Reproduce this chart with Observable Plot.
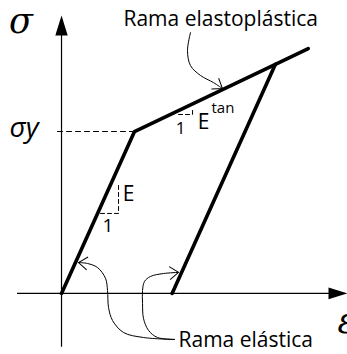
<!DOCTYPE html>
<html>
<head>
<meta charset="utf-8">
<script src="https://cdn.jsdelivr.net/npm/d3@7"></script>
<script src="https://cdn.jsdelivr.net/npm/@observablehq/plot@0.6"></script>
<style>
  html, body { margin: 0; padding: 0; background: #fff; }
</style>
</head>
<body>
<div id="chart"></div>
<script>
// Bilinear (elastic – linear hardening) stress–strain law with elastic unloading.
// Strain ε and stress σ are normalised by the yield point (ε_y = σ_y = 1, E = 1).
const loadStrain = [0, 1, 2.93, 3.38];
const loadStress = [0, 1, 1.415, 1.512];
const unloadStrain = [2.93, 1.515];
const unloadStress = [1.415, 0];

// Yield stress marker (dashed line back to the σ axis)
const yieldStrain = [-0.055, 1];
const yieldStress = [1, 1];

// Slope triangles: elastic modulus E and tangent modulus E^tan
const elasticTriStrain = [0.534, 0.781, 0.781];
const elasticTriStress = [0.494, 0.494, 0.679];
const tangentTriStrain = [1.603, 1.795, 1.795];
const tangentTriStress = [1.105, 1.105, 1.148];

// Axis extents (arrow tips at the far ends)
const strainAxis = [-0.603, 3.918];
const stressAxis = [-0.333, 1.716];

// Leader curves from the labels to the branches
const leaderTopStrain = [1.767, 1.726, 1.767, 1.904, 2.082, 2.205];
const leaderTopStress = [1.611, 1.500, 1.407, 1.346, 1.302, 1.265];
const leaderLeftStrain = [1.548, 1.123, 0.849, 0.699, 0.644, 0.630, 0.603, 0.493, 0.356, 0.233];
const leaderLeftStress = [-0.284, -0.272, -0.241, -0.167, -0.086, 0.019, 0.093, 0.160, 0.185, 0.191];
const leaderRightStrain = [1.548, 1.315, 1.192, 1.123, 1.110, 1.110, 1.137, 1.219, 1.397, 1.603];
const leaderRightStress = [-0.284, -0.272, -0.228, -0.154, -0.062, 0.019, 0.074, 0.105, 0.123, 0.130];

// Text labels
const labelText   = ["Rama elastoplástica", "Rama elástica", "1", "E", "tan", "E", "1"];
const labelStrain = [0.849, 1.603, 1.630, 1.945, 2.055, 0.918, 0.637];
const labelStress = [1.696, -0.292, 1.021, 1.060, 1.141, 0.615, 0.414];
const labelSize   = [21, 21, 17, 21, 15, 21, 19];
const labelAnchor = ["start", "start", "middle", "middle", "start", "middle", "middle"];

const W = 347, H = 354;
const xDomain = [-0.836, 3.918];
const yDomain = [-0.377, 1.809];

const pts = (xs, ys) => xs.map((x, i) => ({x, y: ys[i]}));

// Filled arrowhead for the axes: tip at the anchor, pointing up before rotation
const axisHead = {
  draw(ctx, size) {
    const r = Math.sqrt(size / Math.PI);
    const L = 2 * r, w = 0.31 * L;
    ctx.moveTo(0, 0);
    ctx.lineTo(w, L);
    ctx.lineTo(-w, L);
    ctx.closePath();
  }
};
// Open chevron for the leader curves: tip at the anchor, pointing up before rotation
const chevron = {
  draw(ctx, size) {
    const r = Math.sqrt(size / Math.PI);
    const a = 36 * Math.PI / 180;
    ctx.moveTo(-r * Math.sin(a), r * Math.cos(a));
    ctx.lineTo(0, 0);
    ctx.lineTo(r * Math.sin(a), r * Math.cos(a));
  }
};

// Screen direction of the last segment of a leader, as a rotation in degrees
const kx = W / (xDomain[1] - xDomain[0]);
const ky = H / (yDomain[1] - yDomain[0]);
function endHead(xs, ys) {
  const n = xs.length;
  const dx = (xs[n - 1] - xs[n - 2]) * kx;
  const dy = -(ys[n - 1] - ys[n - 2]) * ky;
  return {x: xs[n - 1], y: ys[n - 1], rotate: Math.atan2(dy, dx) * 180 / Math.PI + 90};
}
const heads = [
  endHead(leaderTopStrain, leaderTopStress),
  endHead(leaderLeftStrain, leaderLeftStress),
  endHead(leaderRightStrain, leaderRightStress)
];

const labels = labelText.map((t, i) => ({
  text: t, x: labelStrain[i], y: labelStress[i], size: labelSize[i], anchor: labelAnchor[i]
}));
const sans = "'Open Sans', sans-serif";
const labelMark = (anchor) =>
  Plot.text(labels.filter((d) => d.anchor === anchor), {
    x: "x", y: "y", text: "text", fontSize: (d) => d.size,
    textAnchor: anchor, fontFamily: sans, fill: "#000"
  });

const chart = Plot.plot({
  width: W,
  height: H,
  margin: 0,
  x: {domain: xDomain, axis: null},
  y: {domain: yDomain, axis: null},
  style: {background: "#fff"},
  marks: [
    // axes
    Plot.ruleY([0], {x1: strainAxis[0], x2: strainAxis[1] - 0.2, stroke: "#000", strokeWidth: 1.2}),
    Plot.ruleX([0], {y1: stressAxis[0], y2: stressAxis[1] - 0.1, stroke: "#000", strokeWidth: 1.2}),
    Plot.dot([{x: strainAxis[1], y: 0}], {x: "x", y: "y", symbol: axisHead, r: 9.5, rotate: 90, fill: "#000", stroke: null}),
    Plot.dot([{x: 0, y: stressAxis[1]}], {x: "x", y: "y", symbol: axisHead, r: 10, rotate: 0, fill: "#000", stroke: null}),

    // yield level and slope triangles
    Plot.line(pts(yieldStrain, yieldStress), {x: "x", y: "y", stroke: "#000", strokeWidth: 1, strokeDasharray: "5,4"}),
    Plot.line(pts(elasticTriStrain, elasticTriStress), {x: "x", y: "y", stroke: "#000", strokeWidth: 1, strokeDasharray: "4,3"}),
    Plot.line(pts(tangentTriStrain, tangentTriStress), {x: "x", y: "y", stroke: "#000", strokeWidth: 1, strokeDasharray: "4,3"}),

    // loading and unloading branches
    Plot.line(pts(loadStrain, loadStress), {x: "x", y: "y", stroke: "#000", strokeWidth: 3.6, strokeLinejoin: "miter"}),
    Plot.line(pts(unloadStrain, unloadStress), {x: "x", y: "y", stroke: "#000", strokeWidth: 3.6}),

    // leaders
    Plot.line(pts(leaderTopStrain, leaderTopStress), {x: "x", y: "y", curve: "catmull-rom", stroke: "#000", strokeWidth: 1}),
    Plot.line(pts(leaderLeftStrain, leaderLeftStress), {x: "x", y: "y", curve: "catmull-rom", stroke: "#000", strokeWidth: 1}),
    Plot.line(pts(leaderRightStrain, leaderRightStress), {x: "x", y: "y", curve: "catmull-rom", stroke: "#000", strokeWidth: 1}),
    Plot.dot(heads, {x: "x", y: "y", rotate: "rotate", symbol: chevron, r: 11, fill: "none", stroke: "#000", strokeWidth: 1}),

    // labels
    labelMark("start"),
    labelMark("middle"),
    Plot.text(["σ"], {x: -0.555, y: 1.680, text: (d) => d, fontSize: 35, fontStyle: "italic", fontFamily: "'DejaVu Serif', serif", fill: "#000"}),
    Plot.text(["σy"], {x: -0.712, y: 1.019, text: (d) => d, fontSize: 28, fontStyle: "italic", textAnchor: "start", fontFamily: sans, fill: "#000"}),
    Plot.text(["ε"], {x: 3.781, y: -0.178, text: (d) => d, fontSize: 35, fontStyle: "italic", textAnchor: "start", fontFamily: "'DejaVu Serif', serif", fill: "#000"})
  ]
});
document.getElementById("chart").appendChild(chart);
</script>
</body>
</html>
